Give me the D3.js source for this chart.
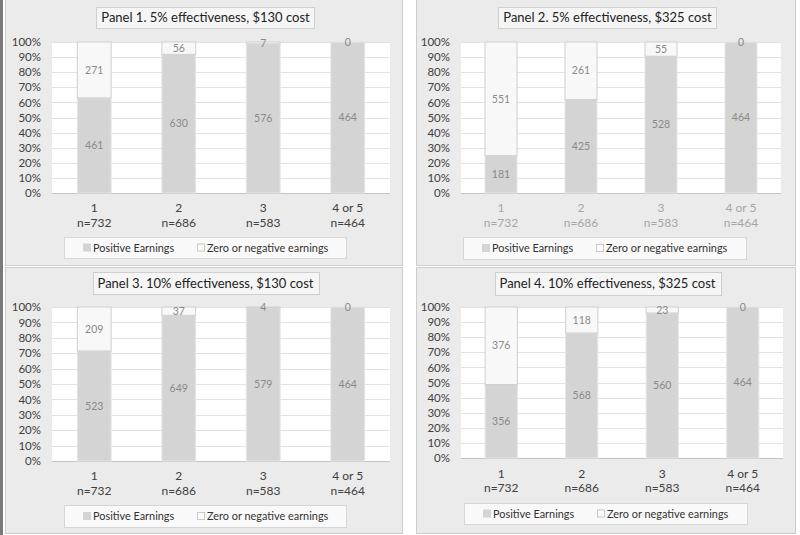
<!DOCTYPE html>
<html>
<head>
<meta charset="utf-8">
<script src="https://cdn.jsdelivr.net/npm/d3@7"></script>
<style>
  body { margin: 0; background: #fff; }
  svg text { font-family: Lato, "Open Sans", sans-serif; }
</style>
</head>
<body>
<script>
// stacked 100% bars, one panel per scenario

const categories = ['1', '2', '3', '4 or 5'];
const groupN = [732, 686, 583, 464];
const seriesNames = ['Positive Earnings', 'Zero or negative earnings'];

const panelTitles = [
    'Panel 1. 5% effectiveness, $130 cost',
    'Panel 2. 5% effectiveness, $325 cost',
    'Panel 3. 10% effectiveness, $130 cost',
    'Panel 4. 10% effectiveness, $325 cost'
];

const positive1 = [461, 630, 576, 464];
const negative1 = [271, 56, 7, 0];
const positive2 = [181, 425, 528, 464];
const negative2 = [551, 261, 55, 0];
const positive3 = [523, 649, 579, 464];
const negative3 = [209, 37, 4, 0];
const positive4 = [356, 568, 560, 464];
const negative4 = [376, 118, 23, 0];

const yTicks = [0, 0.1, 0.2, 0.3, 0.4, 0.5, 0.6, 0.7, 0.8, 0.9, 1];

// layout of each panel on the page
const layout = [
    { box: [5, -1, 397, 266], plot: [52, 390, 42, 193], titleY: [7, 28], catY: [208, 223], legend: [64, 237, 282, 21], catColor: '#404040' },
    { box: [416, -1, 379, 266], plot: [461, 781, 42, 193], titleY: [7, 28], catY: [208, 223], legend: [463, 237, 283, 22], catColor: '#a6a6a6' },
    { box: [5, 267, 397, 266], plot: [52, 390, 307, 461], titleY: [272, 294], catY: [476, 491], legend: [64, 505, 282, 22], catColor: '#404040' },
    { box: [416, 267, 379, 266], plot: [461, 783, 307, 458], titleY: [272, 295], catY: [474, 488], legend: [464, 503, 283, 21], catColor: '#404040' }
];

const panelData = [
    [positive1, negative1],
    [positive2, negative2],
    [positive3, negative3],
    [positive4, negative4]
];

const colors = { pos: '#d4d4d4', posStroke: '#e6e6e6', neg: '#f8f8f8', negStroke: '#cfcfcf' };

const svg = d3.select('body').append('svg')
    .attr('width', 800)
    .attr('height', 535);

// dark edge on the left of the picture
svg.append('rect').attr('x', 0).attr('y', 0).attr('width', 3).attr('height', 535).attr('fill', '#7a7a7a');

panelData.forEach((pd, i) => drawPanel(i, pd[0], pd[1]));

function drawPanel(i, pos, neg) {
    const L = layout[i];
    const g = svg.append('g').attr('class', 'panel');

    g.append('rect')
        .attr('x', L.box[0] + 0.5).attr('y', L.box[1] + 0.5)
        .attr('width', L.box[2]).attr('height', L.box[3])
        .attr('fill', '#ebebeb')
        .attr('stroke', '#cdcdcd');

    const table = categories.map((c, j) => ({ cat: c, pos: pos[j], neg: neg[j] }));
    const stacked = d3.stack().keys(['pos', 'neg']).offset(d3.stackOffsetExpand)(table);

    const x = d3.scaleBand()
        .domain(categories)
        .range([L.plot[0], L.plot[1]])
        .paddingInner(0.6)
        .paddingOuter(0.3);

    const y = d3.scaleLinear()
        .domain([0, 1])
        .range([L.plot[3], L.plot[2]]);

    // plot area
    g.append('rect')
        .attr('x', L.plot[0]).attr('y', L.plot[2])
        .attr('width', L.plot[1] - L.plot[0]).attr('height', L.plot[3] - L.plot[2])
        .attr('fill', '#fff');

    g.append('g')
        .selectAll('line')
        .data(yTicks)
        .enter()
        .append('line')
        .attr('x1', L.plot[0]).attr('x2', L.plot[1])
        .attr('y1', d => Math.round(y(d)) + 0.5).attr('y2', d => Math.round(y(d)) + 0.5)
        .attr('stroke', d => d === 0 ? '#c4c4c4' : '#e2e2e2');

    const yAxis = g.append('g')
        .attr('transform', 'translate(' + (L.plot[0] - 4) + ',0)')
        .call(d3.axisLeft(y).tickValues(yTicks).tickFormat(d3.format('.0%')).tickSize(0).tickPadding(7));
    yAxis.select('.domain').remove();
    yAxis.selectAll('text')
        .attr('font-size', 11.5)
        .attr('fill', '#404040');

    // bars
    const series = g.append('g')
        .selectAll('g')
        .data(stacked)
        .enter()
        .append('g');

    series.selectAll('rect')
        .data(d => d.map(v => Object.assign({ key: d.key }, v)))
        .enter()
        .append('rect')
        .attr('x', d => x(d.data.cat))
        .attr('width', x.bandwidth())
        .attr('y', d => y(d[1]))
        .attr('height', d => y(d[0]) - y(d[1]))
        .attr('fill', d => d.key === 'pos' ? colors.pos : colors.neg)
        .attr('stroke', d => d.key === 'pos' ? colors.posStroke : colors.negStroke)
        .attr('stroke-width', 1);

    // data labels in the middle of each segment
    series.selectAll('text')
        .data(d => d.map(v => Object.assign({ key: d.key }, v)))
        .enter()
        .append('text')
        .attr('x', d => x(d.data.cat) + x.bandwidth() / 2)
        .attr('y', d => y((d[0] + d[1]) / 2))
        .attr('dy', '0.35em')
        .attr('text-anchor', 'middle')
        .attr('font-size', 10.5)
        .attr('fill', '#8a8a8a')
        .text(d => d.data[d.key]);

    // category labels
    const cats = g.append('g')
        .selectAll('text')
        .data(categories)
        .enter()
        .append('text')
        .attr('text-anchor', 'middle')
        .attr('font-size', 12)
        .attr('fill', L.catColor);
    cats.append('tspan')
        .attr('x', d => x(d) + x.bandwidth() / 2)
        .attr('y', L.catY[0])
        .attr('dy', '0.35em')
        .text(d => d);
    cats.append('tspan')
        .attr('x', d => x(d) + x.bandwidth() / 2)
        .attr('y', L.catY[1])
        .attr('dy', '0.35em')
        .text((d, j) => 'n=' + groupN[j]);

    // title box
    const cx = L.box[0] + L.box[2] / 2 + 2;
    const titleBox = g.append('rect');
    const title = g.append('text')
        .attr('x', cx)
        .attr('y', (L.titleY[0] + L.titleY[1]) / 2)
        .attr('dy', '0.36em')
        .attr('text-anchor', 'middle')
        .attr('font-size', 13)
        .attr('fill', '#222')
        .text(panelTitles[i]);
    const tw = title.node().getComputedTextLength();
    titleBox
        .attr('x', Math.round(cx - tw / 2 - 5) + 0.5)
        .attr('y', L.titleY[0] + 0.5)
        .attr('width', Math.round(tw + 10))
        .attr('height', L.titleY[1] - L.titleY[0])
        .attr('fill', '#f5f5f5')
        .attr('stroke', '#cfcfcf');

    // legend
    const lg = g.append('g').attr('transform', 'translate(' + L.legend[0] + ',' + L.legend[1] + ')');
    lg.append('rect')
        .attr('x', 0.5).attr('y', 0.5)
        .attr('width', L.legend[2]).attr('height', L.legend[3])
        .attr('fill', '#f9f9f9')
        .attr('stroke', '#d6d6d6');
    const items = [
        { name: seriesNames[0], fill: colors.pos, stroke: colors.pos, off: 19 },
        { name: seriesNames[1], fill: '#fbfbfb', stroke: '#c8c8c8', off: 133 }
    ];
    items.forEach(it => {
        lg.append('rect')
            .attr('x', it.off + 0.5).attr('y', L.legend[3] / 2 - 3.5)
            .attr('width', 7).attr('height', 7)
            .attr('fill', it.fill)
            .attr('stroke', it.stroke);
        lg.append('text')
            .attr('x', it.off + 10)
            .attr('y', L.legend[3] / 2 + 0.5)
            .attr('dy', '0.35em')
            .attr('font-size', 10.9)
            .attr('fill', '#333')
            .text(it.name);
    });
}
</script>
</body>
</html>
